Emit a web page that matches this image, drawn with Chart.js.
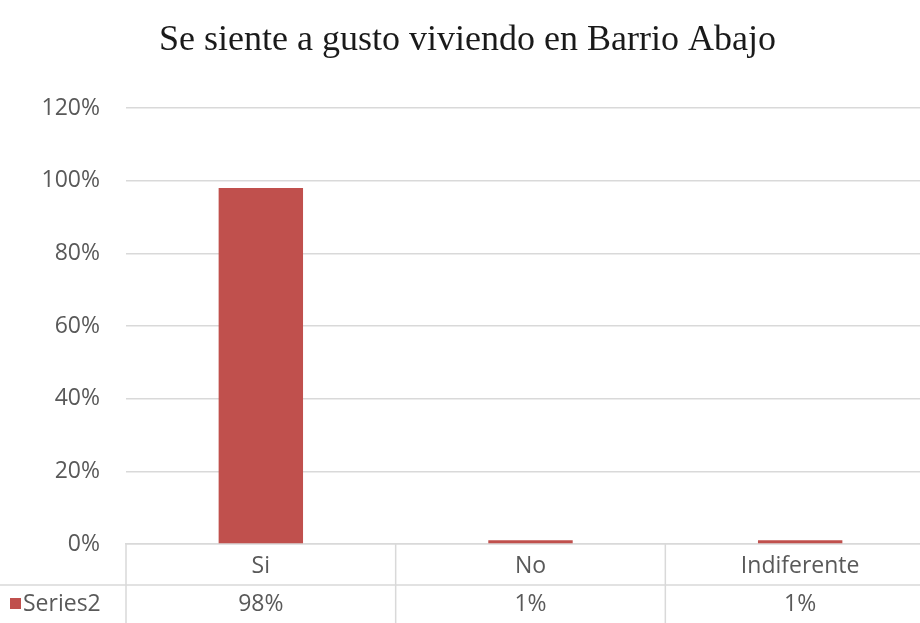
<!DOCTYPE html>
<html lang="es">
<head>
    <meta charset="UTF-8">
    <title>Se siente a gusto viviendo en Barrio Abajo</title>
    <script src="https://cdn.jsdelivr.net/npm/chart.js"></script>
    <style>
        html, body {
            margin: 0;
            padding: 0;
            background: #ffffff;
            overflow: hidden;
        }
        /* a bit wider than the window, the last column runs off the right edge */
        .chartBox {
            width: 935px;
            height: 623px;
        }
    </style>
</head>
<body>
    <div class="chartBox">
        <canvas id="gustoChart"></canvas>
    </div>

<script>
    const titulo = 'Se siente a gusto viviendo en Barrio Abajo';
    const categorias = ['Si', 'No', 'Indiferente'];
    const serieNombre = 'Series2';
    const serieValores = [98, 1, 1];
    const ejeY = [0, 20, 40, 60, 80, 100, 120];

    const rojo = '#C0504D';
    const gris = '#595959';
    const linea = '#D9D9D9';
    const fuente = '"Open Sans", "Liberation Sans", sans-serif';

    // tabla de datos debajo del eje x (fila de categorias + fila de la serie)
    const tablaDatos = {
        id: 'tablaDatos',
        afterDraw(chart) {
            const ctx = chart.ctx;
            const x = chart.scales.x;
            const area = chart.chartArea;
            const filaY = x.top + 41;
            const abajo = chart.height;

            ctx.save();
            ctx.strokeStyle = linea;
            ctx.lineWidth = 1.5;

            ctx.beginPath();
            ctx.moveTo(0, filaY);
            ctx.lineTo(chart.width, filaY);
            ctx.stroke();

            const bordes = [area.left, area.right];
            for (let i = 1; i < categorias.length; i++) {
                bordes.push((x.getPixelForValue(i - 1) + x.getPixelForValue(i)) / 2);
            }
            bordes.forEach(bx => {
                ctx.beginPath();
                ctx.moveTo(bx, x.top);
                ctx.lineTo(bx, abajo);
                ctx.stroke();
            });

            const centroFila = (filaY + abajo) / 2;
            ctx.fillStyle = rojo;
            ctx.fillRect(10, centroFila - 6, 11, 11);

            ctx.font = '23px ' + fuente;
            ctx.fillStyle = gris;
            ctx.textBaseline = 'middle';
            ctx.textAlign = 'left';
            ctx.fillText(serieNombre, 23, centroFila);

            ctx.textAlign = 'center';
            serieValores.forEach((v, i) => {
                ctx.fillText(v + '%', x.getPixelForValue(i), centroFila);
            });
            ctx.restore();
        }
    };

    const ctx = document.getElementById('gustoChart').getContext('2d');
    new Chart(ctx, {
        type: 'bar',
        data: {
            labels: categorias,
            datasets: [{
                label: serieNombre,
                data: serieValores,
                backgroundColor: rojo,
                borderWidth: 0,
                categoryPercentage: 1,
                barPercentage: 0.313
            }]
        },
        options: {
            responsive: true,
            maintainAspectRatio: false,
            animation: false,
            layout: { padding: 0 },
            plugins: {
                legend: { display: false },
                tooltip: { enabled: false },
                title: {
                    display: true,
                    text: titulo,
                    color: '#1a1a1a',
                    font: { family: '"Liberation Serif", "Times New Roman", serif', size: 36, weight: 'normal' },
                    padding: { top: 19, bottom: 46 }
                }
            },
            scales: {
                x: {
                    grid: { display: false, drawTicks: false },
                    border: { display: true, color: linea, width: 1.5 },
                    ticks: {
                        color: gris,
                        font: { family: fuente, size: 23 },
                        padding: 9,
                        maxRotation: 0
                    },
                    afterFit(scale) { scale.height = 79; }
                },
                y: {
                    min: ejeY[0],
                    max: ejeY[ejeY.length - 1],
                    afterBuildTicks(scale) {
                        scale.ticks = ejeY.map(v => ({ value: v }));
                    },
                    grid: { color: linea, lineWidth: 1.5, drawTicks: false },
                    border: { display: false },
                    ticks: {
                        color: gris,
                        font: { family: fuente, size: 23 },
                        padding: 26,
                        callback: v => v + '%'
                    },
                    afterFit(scale) { scale.width = 126; }
                }
            }
        },
        plugins: [tablaDatos]
    });
</script>
</body>
</html>
